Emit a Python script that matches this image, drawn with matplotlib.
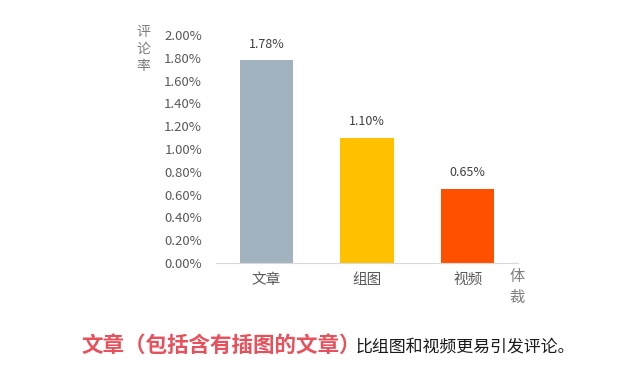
import matplotlib.pyplot as plt
from matplotlib.ticker import PercentFormatter

plt.rcParams['font.family'] = ['Noto Sans CJK SC', 'DejaVu Sans']

# data
categories = ['文章', '组图', '视频']
rates = [1.78, 1.10, 0.65]  # percent
bar_colors = ['#A3B2BF', '#FFC000', '#FF5000']
y_ticks = [0.0, 0.2, 0.4, 0.6, 0.8, 1.0, 1.2, 1.4, 1.6, 1.8, 2.0]

fig = plt.figure(figsize=(6.4, 3.86), dpi=100)
ax = fig.add_axes([0.3375, 0.3187, 0.4719, 0.5903])

x = range(len(categories))
bars = ax.bar(x, rates, width=0.53, color=bar_colors)

for b, v in zip(bars, rates):
    ax.text(b.get_x() + b.get_width() / 2, v + 0.14, f'{v:.2f}%',
            ha='center', va='center', fontsize=9, color='#404040')

ax.set_xlim(-0.5, 2.5)
ax.set_ylim(0, 2.0)
ax.set_yticks(y_ticks)
ax.yaxis.set_major_formatter(PercentFormatter(decimals=2))
ax.set_xticks(list(x))
ax.set_xticklabels(categories)
ax.tick_params(axis='both', length=0, labelcolor='#595959')
ax.tick_params(axis='y', labelsize=9.5, pad=10)
ax.tick_params(axis='x', labelsize=10.5, pad=7)

for s in ['top', 'right', 'left']:
    ax.spines[s].set_visible(False)
ax.spines['bottom'].set_color('#D9D9D9')

fig.text(143 / 640, 1 - 49 / 386, '评\n论\n率', ha='center', va='center',
         fontsize=10, color='#7F7F7F', linespacing=1.3)
fig.text(517 / 640, 1 - 287 / 386, '体\n裁', ha='center', va='center',
         fontsize=11, color='#7F7F7F', linespacing=1.3)

fig.text(81 / 640, 1 - 345 / 386, '文章（包括含有插图的文章）', ha='left', va='center',
         fontsize=15.5, fontweight='bold', color='#E8505B')
fig.text(356 / 640, 1 - 346 / 386, '比组图和视频更易引发评论。', ha='left', va='center',
         fontsize=12.2, color='#1A1A1A')

fig.savefig('out.png', dpi=100)
